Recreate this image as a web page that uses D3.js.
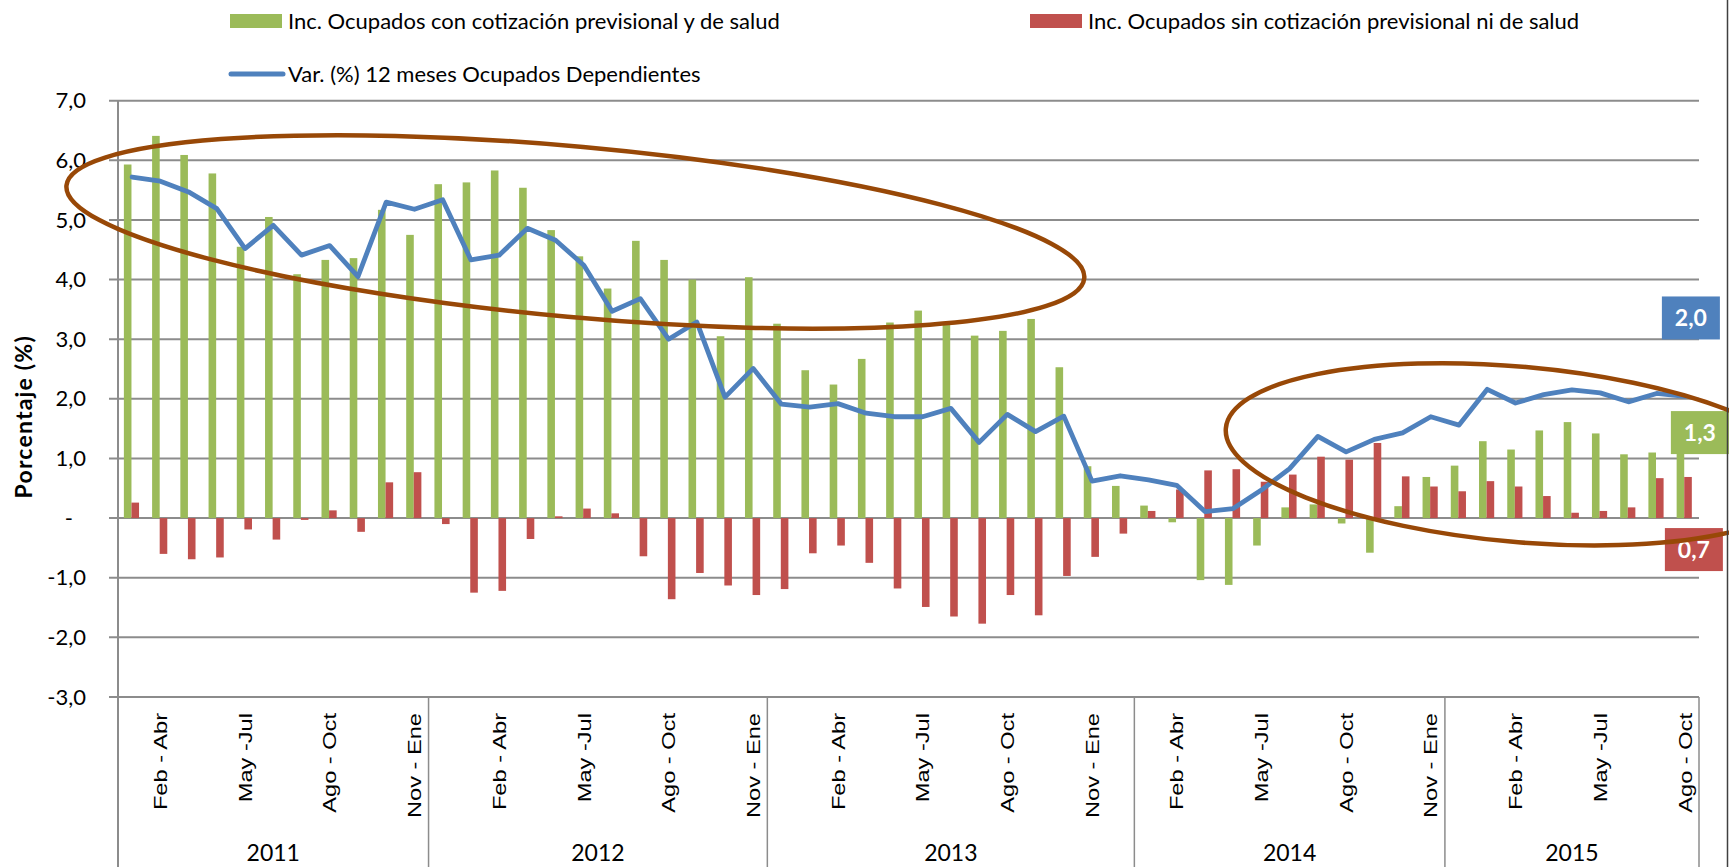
<!DOCTYPE html>
<html>
<head>
<meta charset="utf-8">
<script src="https://cdn.jsdelivr.net/npm/d3@7"></script>
<style>
  body { margin: 0; background: #fff; }
  svg { display: block; font-family: Lato, "Open Sans", sans-serif; }
</style>
</head>
<body>
<div class="chart"></div>
<script>

// Rolling quarters (Encuesta de empleo), grouped by year
const periods = [
  "Ene - Mar","Feb - Abr","Mar - May","Abr - Jun","May -Jul","Jun - Ago","Jul - Sep","Ago - Oct","Sep - Nov","Oct - Dic","Nov - Ene",
  "Dic - Feb","Ene - Mar","Feb - Abr","Mar - May","Abr - Jun","May -Jul","Jun - Ago","Jul - Sep","Ago - Oct","Sep - Nov","Oct - Dic","Nov - Ene",
  "Dic - Feb","Ene - Mar","Feb - Abr","Mar - May","Abr - Jun","May -Jul","Jun - Ago","Jul - Sep","Ago - Oct","Sep - Nov","Oct - Dic","Nov - Ene","Dic - Feb",
  "Ene - Mar","Feb - Abr","Mar - May","Abr - Jun","May -Jul","Jun - Ago","Jul - Sep","Ago - Oct","Sep - Nov","Oct - Dic","Nov - Ene",
  "Dic - Feb","Ene - Mar","Feb - Abr","Mar - May","Abr - Jun","May -Jul","Jun - Ago","Jul - Sep","Ago - Oct"
];
const shownPeriods = ["Feb - Abr", "May -Jul", "Ago - Oct", "Nov - Ene"];
const years = ["2011", "2012", "2013", "2014", "2015"];
const periodsPerYear = [11, 12, 13, 11, 9];

const conCotizacion = [
  5.93, 6.41, 6.09, 5.78, 4.55, 5.05, 4.09, 4.33, 4.36, 5.17, 4.75,
  5.60, 5.63, 5.83, 5.54, 4.83, 4.39, 3.85, 4.65, 4.33, 4.00, 3.05, 4.04,
  3.26, 2.48, 2.24, 2.67, 3.28, 3.48, 3.25, 3.06, 3.14, 3.34, 2.53, 0.87, 0.54,
  0.21, -0.07, -1.04, -1.12, -0.46, 0.18, 0.23, -0.09, -0.58, 0.20, 0.69,
  0.88, 1.29, 1.15, 1.47, 1.61, 1.42, 1.07, 1.10, 1.30
];
const sinCotizacion = [
  0.26, -0.60, -0.69, -0.66, -0.19, -0.36, -0.03, 0.13, -0.23, 0.60, 0.77,
  -0.10, -1.25, -1.22, -0.35, 0.03, 0.16, 0.08, -0.64, -1.36, -0.92, -1.13, -1.29,
  -1.19, -0.59, -0.46, -0.75, -1.18, -1.49, -1.65, -1.77, -1.29, -1.63, -0.97, -0.65, -0.26,
  0.12, 0.48, 0.80, 0.82, 0.61, 0.73, 1.03, 0.98, 1.26, 0.70, 0.53,
  0.45, 0.62, 0.53, 0.37, 0.09, 0.12, 0.18, 0.67, 0.69
];
const varDependientes = [
  5.72, 5.65, 5.47, 5.19, 4.52, 4.91, 4.41, 4.57, 4.05, 5.30, 5.18,
  5.34, 4.33, 4.41, 4.86, 4.66, 4.24, 3.47, 3.68, 3.00, 3.29, 2.03, 2.51,
  1.91, 1.86, 1.92, 1.76, 1.70, 1.70, 1.84, 1.27, 1.74, 1.45, 1.71, 0.62, 0.71,
  0.64, 0.55, 0.11, 0.16, 0.47, 0.83, 1.37, 1.11, 1.32, 1.43, 1.70,
  1.56, 2.16, 1.93, 2.07, 2.15, 2.10, 1.95, 2.09, 2.04
];
const yTicks = [-3, -2, -1, 0, 1, 2, 3, 4, 5, 6, 7];

const seriesNames = [
  "Inc. Ocupados con cotización previsional y de salud",
  "Inc. Ocupados sin cotización previsional ni de salud",
  "Var. (%) 12 meses Ocupados Dependientes"
];
const colors = { con: "#9bbb59", sin: "#c0504d", line: "#4f81bd", ring: "#984807" };

// hand-drawn rings: centre in (period index, value), radii in (periods, value units)
const rings = [
  { cx: 16.2, cy: 4.80, rx: 18.1, ry: 1.43, angle: 5.2 },
  { cx: 49.6, cy: 1.07, rx: 10.4, ry: 1.47, angle: 5.1 }
];

const fmt = d3.formatLocale({ decimal: ",", thousands: ".", grouping: [3], currency: ["$", ""], minus: "-" }).format(".1f");

function setupChart() {
    const width = 1729;
    const height = 867;
    const margin = { top: 100.7, right: 30, bottom: 170, left: 118 };

    const svg = d3.select(".chart")
      .append("svg")
      .attr("width", width)
      .attr("height", height);

    const x = d3.scaleBand()
      .domain(d3.range(periods.length))
      .range([margin.left, width - margin.right]);
    const xInner = d3.scaleBand()
      .domain(["con", "sin"])
      .range([0, x.step()])
      .paddingOuter(0.86)
      .align(0.45);
    const y = d3.scaleLinear()
      .domain([-3, 7])
      .range([height - margin.bottom, margin.top]);

    return { svg, x, xInner, y, width, height, margin };
}

function drawAxes(c) {
    const { svg, x, y, width, height, margin } = c;
    const right = width - margin.right;
    const gridColor = "#8c8c8c";

    // horizontal grid + outside ticks
    svg.append("g").selectAll("line")
      .data(yTicks)
      .enter().append("line")
        .attr("x1", margin.left - 9)
        .attr("x2", right)
        .attr("y1", d => y(d))
        .attr("y2", d => y(d))
        .attr("stroke", gridColor)
        .attr("stroke-width", 2);

    const yAxis = svg.append("g")
      .attr("transform", `translate(${margin.left},0)`)
      .call(d3.axisLeft(y).tickValues(yTicks)
        .tickFormat(d => d === 0 ? "-" : fmt(d))
        .tickSize(0).tickPadding(32));
    yAxis.select(".domain").remove();
    yAxis.selectAll("text")
      .attr("font-size", 22)
      .attr("font-family", "Lato, sans-serif")
      .attr("fill", "#000")
      .attr("dx", d => d === 0 ? -13 : 0);

    // y axis line runs down through the category table
    svg.append("line")
      .attr("x1", margin.left).attr("x2", margin.left)
      .attr("y1", margin.top).attr("y2", height)
      .attr("stroke", gridColor).attr("stroke-width", 2);

    svg.append("text")
      .attr("transform", `translate(23,${y(1.7)}) rotate(-90)`)
      .attr("text-anchor", "middle")
      .attr("dominant-baseline", "central")
      .attr("font-weight", "bold")
      .attr("font-size", 23)
      .attr("letter-spacing", 1.2)
      .text("Porcentaje (%)");

    // period labels
    const base = height - margin.bottom;
    svg.append("g").selectAll("text")
      .data(periods.map((p, i) => ({ p, i })).filter(d => d.i % 3 === 1 && shownPeriods.includes(d.p)))
      .enter().append("text")
        .attr("transform", d => `translate(${x(d.i) + x.bandwidth() / 2},${base + 16}) rotate(-90) scale(1.27,1)`)
        .attr("text-anchor", "end")
        .attr("dy", "0.36em")
        .attr("font-family", "'Liberation Sans', Arial, sans-serif")
        .attr("font-size", 18.6)
        .text(d => d.p);

    // year groups
    let start = 0;
    const groups = years.map((yr, k) => {
      const g = { yr, from: start, to: start + periodsPerYear[k] };
      start += periodsPerYear[k];
      return g;
    });
    const edge = i => i >= periods.length ? right : x(i);

    svg.append("g").selectAll("line")
      .data(groups)
      .enter().append("line")
        .attr("x1", d => edge(d.to)).attr("x2", d => edge(d.to))
        .attr("y1", base).attr("y2", height)
        .attr("stroke", gridColor).attr("stroke-width", 1.5);

    svg.append("g").selectAll("text")
      .data(groups)
      .enter().append("text")
        .attr("x", d => (edge(d.from) + edge(d.to)) / 2)
        .attr("y", height - 6)
        .attr("text-anchor", "middle")
        .attr("font-size", 23)
        .text(d => d.yr);
}

function drawSeries(c) {
    const { svg, x, xInner, y } = c;

    const bars = svg.append("g");
    bars.selectAll("rect.con")
      .data(conCotizacion)
      .enter().append("rect")
        .attr("class", "con")
        .attr("x", (d, i) => x(i) + xInner("con"))
        .attr("width", xInner.bandwidth())
        .attr("y", d => y(Math.max(0, d)))
        .attr("height", d => Math.abs(y(d) - y(0)))
        .attr("fill", colors.con);
    bars.selectAll("rect.sin")
      .data(sinCotizacion)
      .enter().append("rect")
        .attr("class", "sin")
        .attr("x", (d, i) => x(i) + xInner("sin"))
        .attr("width", xInner.bandwidth())
        .attr("y", d => y(Math.max(0, d)))
        .attr("height", d => Math.abs(y(d) - y(0)))
        .attr("fill", colors.sin);

    const line = d3.line()
      .x((d, i) => x(i) + x.bandwidth() / 2)
      .y(d => y(d));
    svg.append("path")
      .datum(varDependientes)
      .attr("d", line)
      .attr("fill", "none")
      .attr("stroke", colors.line)
      .attr("stroke-width", 4.8)
      .attr("stroke-linejoin", "round")
      .attr("stroke-linecap", "round");
}

function drawLastLabels(c) {
    const { svg, x, y } = c;
    const last = periods.length - 1;
    const px = x(last) + x.bandwidth() / 2;
    // data labels of the last period, moved aside by hand as in the original
    const labels = [
      { v: varDependientes[last], color: colors.line, dx: 6, dy: -78.5, w: 58 },
      { v: conCotizacion[last], color: colors.con, dx: 15, dy: -8, w: 58 },
      { v: sinCotizacion[last], color: colors.sin, dx: 9, dy: 72.6, w: 58 }
    ];
    const g = svg.append("g").selectAll("g")
      .data(labels)
      .enter().append("g")
        .attr("transform", d => `translate(${px + d.dx},${y(d.v) + d.dy})`);
    g.append("rect")
      .attr("x", d => -d.w / 2).attr("y", -21.5)
      .attr("width", d => d.w).attr("height", 43)
      .attr("fill", d => d.color);
    g.append("text")
      .attr("text-anchor", "middle")
      .attr("dy", "0.36em")
      .attr("fill", "#fff")
      .attr("font-weight", "bold")
      .attr("font-size", 23)
      .text(d => fmt(d.v));
}

function drawRings(c) {
    const { svg, x, y } = c;
    const x0 = x.range()[0];
    const unit = y(0) - y(1);
    svg.append("g").selectAll("ellipse")
      .data(rings)
      .enter().append("ellipse")
        .attr("transform", d => `translate(${x0 + d.cx * x.step()},${y(d.cy)}) rotate(${d.angle})`)
        .attr("rx", d => d.rx * x.step())
        .attr("ry", d => d.ry * unit)
        .attr("fill", "none")
        .attr("stroke", colors.ring)
        .attr("stroke-width", 4.5);
}

function drawLegend(c) {
    const { svg } = c;
    const items = [
      { name: seriesNames[0], kind: "rect", color: colors.con, x: 230, y: 21 },
      { name: seriesNames[1], kind: "rect", color: colors.sin, x: 1030, y: 21 },
      { name: seriesNames[2], kind: "line", color: colors.line, x: 230, y: 74 }
    ];
    const g = svg.append("g").selectAll("g")
      .data(items)
      .enter().append("g")
        .attr("transform", d => `translate(${d.x},${d.y})`);
    g.filter(d => d.kind === "rect").append("rect")
      .attr("x", 0).attr("y", -7).attr("width", 52).attr("height", 14)
      .attr("fill", d => d.color);
    g.filter(d => d.kind === "line").append("line")
      .attr("x1", 1).attr("x2", 53)
      .attr("stroke", d => d.color)
      .attr("stroke-width", 5)
      .attr("stroke-linecap", "round");
    g.append("text")
      .attr("x", 58)
      .attr("dy", "0.35em")
      .attr("font-size", 22)
      .text(d => d.name);
}

const chart = setupChart();
drawAxes(chart);
drawSeries(chart);
drawLastLabels(chart);
drawRings(chart);
drawLegend(chart);

// right frame edge of the pasted chart
chart.svg.append("line")
  .attr("x1", 1727.5).attr("x2", 1727.5)
  .attr("y1", 0).attr("y2", chart.height)
  .attr("stroke", "#404040").attr("stroke-width", 1.5);
</script>
</body>
</html>
